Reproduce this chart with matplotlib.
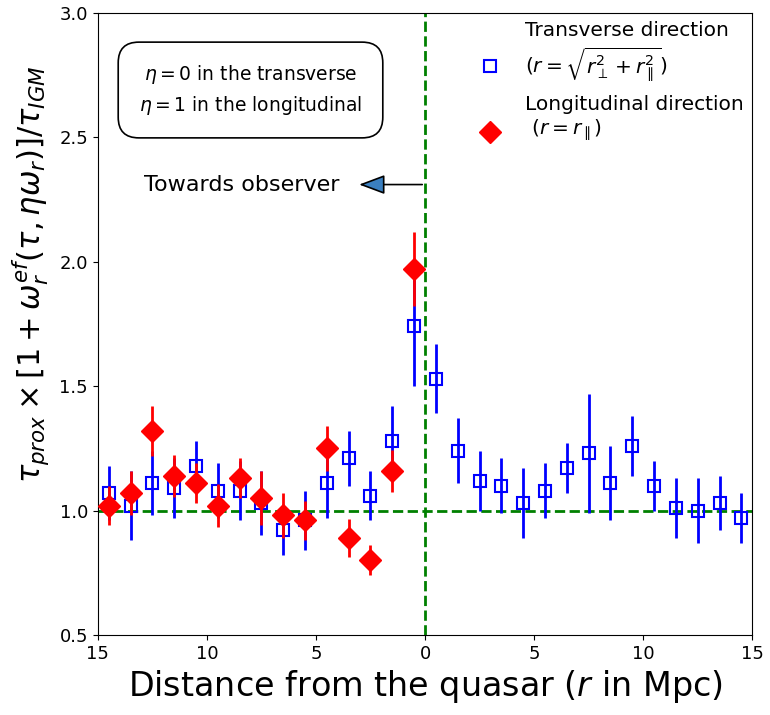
import numpy as np
import matplotlib.pyplot as plt
from matplotlib.lines import Line2D
from matplotlib.ticker import FuncFormatter

# distance bins (Mpc), left side = towards observer
r_left = np.array([14.5, 13.5, 12.5, 11.5, 10.5, 9.5, 8.5, 7.5, 6.5, 5.5, 4.5, 3.5, 2.5, 1.5, 0.5])
r_right = np.array([0.5, 1.5, 2.5, 3.5, 4.5, 5.5, 6.5, 7.5, 8.5, 9.5, 10.5, 11.5, 12.5, 13.5, 14.5])

# transverse direction, observer side
trans_left = [1.07, 1.02, 1.11, 1.09, 1.18, 1.08, 1.08, 1.03, 0.92, 0.96, 1.11, 1.21, 1.06, 1.28, 1.74]
trans_left_err = [0.11, 0.14, 0.13, 0.12, 0.10, 0.11, 0.12, 0.13, 0.10, 0.12, 0.14, 0.11, 0.10, 0.14, 0.24]
# transverse direction, far side
trans_right = [1.53, 1.24, 1.12, 1.10, 1.03, 1.08, 1.17, 1.23, 1.11, 1.26, 1.10, 1.01, 1.00, 1.03, 0.97]
trans_right_err = [0.14, 0.13, 0.12, 0.11, 0.14, 0.11, 0.10, 0.24, 0.15, 0.12, 0.10, 0.12, 0.13, 0.11, 0.10]

# longitudinal direction
long_vals = [1.02, 1.07, 1.32, 1.14, 1.11, 1.02, 1.13, 1.05, 0.98, 0.96, 1.25, 0.89, 0.80, 1.16, 1.97]
long_err = [0.08, 0.09, 0.10, 0.085, 0.08, 0.085, 0.08, 0.11, 0.09, 0.08, 0.09, 0.075, 0.06, 0.085, 0.15]

fig = plt.figure(figsize=(7.7, 7.15), dpi=100)
ax = fig.add_axes([0.127, 0.112, 0.85, 0.87])

ax.axhline(1.0, color='g', ls='--', lw=2, zorder=1)
ax.axvline(0.0, color='g', ls='--', lw=2, zorder=1)

ax.errorbar(-r_left, trans_left, yerr=trans_left_err, fmt='s', color='b', mfc='none',
            mec='b', mew=1.5, ms=9, elinewidth=2, zorder=2)
ax.errorbar(r_right, trans_right, yerr=trans_right_err, fmt='s', color='b', mfc='none',
            mec='b', mew=1.5, ms=9, elinewidth=2, zorder=2)
ax.errorbar(-r_left, long_vals, yerr=long_err, fmt='D', color='r', ms=11,
            elinewidth=2, zorder=3)

ax.set_xlim(-15, 15)
ax.set_ylim(0.5, 3.0)
ax.set_xticks([-15, -10, -5, 0, 5, 10, 15])
ax.xaxis.set_major_formatter(FuncFormatter(lambda v, p: '%d' % abs(v)))
ax.tick_params(labelsize=13)

ax.set_xlabel('Distance from the quasar ($r$ in Mpc)', fontsize=24)
ax.set_ylabel(r'$\tau_{prox} \times [1 + \omega_r^{ef}(\tau, \eta\omega_r)]/\tau_{IGM}$', fontsize=22)
ax.yaxis.set_label_coords(-0.072, 0.58)

ax.text(-8.0, 2.69, '$\\eta = 0$ in the transverse\n$\\eta = 1$ in the longitudinal',
        fontsize=13.5, ha='center', va='center', linespacing=1.5,
        bbox=dict(boxstyle='round,pad=1.1', fc='white', ec='black', lw=1.2))

ax.annotate('', xy=(-3.15, 2.31), xytext=(0, 2.31),
            arrowprops=dict(arrowstyle='-|>,head_length=0.8,head_width=0.3', mutation_scale=20,
                            fc='#3a7fc0', ec='black', lw=1.2))
ax.text(-8.4, 2.31, 'Towards observer', fontsize=16, ha='center', va='center')

handles = [Line2D([], [], ls='none', marker='s', ms=8, mfc='none', mec='b', mew=1.5),
           Line2D([], [], ls='none', marker='D', ms=11, color='r')]
labels = ['Transverse direction\n$(r = \\sqrt{r_{\\perp}^2 + r_{\\parallel}^2})$',
          'Longitudinal direction\n $(r = r_{\\parallel})$']
leg = ax.legend(handles, labels, loc='upper right', frameon=False, fontsize=14.5,
                handletextpad=0.75, borderaxespad=0.0)
# markers sit next to the lower line of each label
for h in leg.legend_handles:
    h.set_ydata(np.asarray(h.get_ydata()) - 9)

fig.savefig('out.png', dpi=100)
